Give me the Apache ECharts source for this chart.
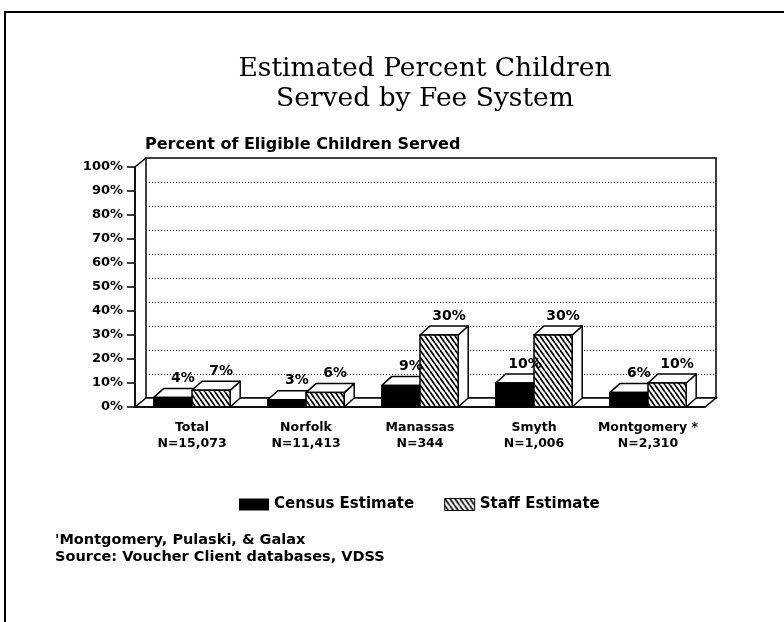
<!DOCTYPE html>
<html>
<head>
<meta charset="utf-8">
<script src="https://cdn.jsdelivr.net/npm/echarts@6/dist/echarts.min.js"></script>
<style>
  html, body { margin: 0; padding: 0; background: #fff; }
  #chart { width: 784px; height: 622px; }
</style>
</head>
<body>
<div id="chart"></div>
<script>
// data
const categories = ['Total', 'Norfolk', 'Manassas', 'Smyth', 'Montgomery *'];
const sampleSizes = ['N=15,073', 'N=11,413', 'N=344', 'N=1,006', 'N=2,310'];
const censusEstimate = [4, 3, 9, 10, 6];
const staffEstimate = [7, 6, 30, 30, 10];
const yMin = 0, yMax = 100, yStep = 10;

const LABEL_FONT = '"DejaVu Sans", sans-serif';
// 3d depth of the boxes and of the back wall, in pixels
const BAR_DX = 10, BAR_DY = 9;
const WALL_DX = 11, WALL_DY = 9;

function makeHatch () {
    const c = document.createElement('canvas');
    c.width = 5; c.height = 7;
    const g = c.getContext('2d');
    g.fillStyle = '#fff';
    g.fillRect(0, 0, 5, 7);
    g.strokeStyle = '#000';
    g.lineWidth = 1.7;
    for (let o = -5; o <= 5; o += 5) {
        g.beginPath();
        g.moveTo(o, 0);
        g.lineTo(o + 5, 7);
        g.stroke();
    }
    return c;
}
const hatch = { image: makeHatch(), repeat: 'repeat' };

function boxRenderer (side, fill) {
    return function (params, api) {
        const idx = api.value(0);
        const v = api.value(1);
        const base = api.coord([idx, 0]);
        const top = api.coord([idx, v]);
        const band = api.size([1, 0])[0];
        const w = band * 0.335;
        const x0 = side === 0 ? base[0] - w : base[0];
        const x1 = x0 + w;
        const y0 = base[1], yt = top[1];
        const line = { stroke: '#000', lineWidth: 1.5, lineJoin: 'round' };
        return {
            type: 'group',
            children: [
                {
                    type: 'polygon',
                    shape: { points: [[x1, yt], [x1 + BAR_DX, yt - BAR_DY], [x1 + BAR_DX, y0 - BAR_DY], [x1, y0]] },
                    style: Object.assign({ fill: '#fff' }, line)
                },
                {
                    type: 'polygon',
                    shape: { points: [[x0, yt], [x0 + BAR_DX, yt - BAR_DY], [x1 + BAR_DX, yt - BAR_DY], [x1, yt]] },
                    style: Object.assign({ fill: '#fff' }, line)
                },
                {
                    type: 'rect',
                    shape: { x: x0, y: yt, width: w, height: y0 - yt },
                    style: Object.assign({ fill: fill }, line)
                },
                {
                    type: 'text',
                    z2: 100,
                    x: (x0 + x1) / 2 + BAR_DX,
                    y: yt - BAR_DY - 3,
                    style: {
                        text: v + '%',
                        fill: '#000',
                        font: 'bold 14px ' + LABEL_FONT,
                        align: 'center',
                        verticalAlign: 'bottom'
                    }
                }
            ]
        };
    };
}

// side wall and floor edges of the 3d frame
function frameRenderer (params, api) {
    const band = api.size([1, 0])[0];
    const left = api.coord([0, yMin])[0] - band / 2;
    const right = api.coord([categories.length - 1, yMin])[0] + band / 2;
    const bottom = api.coord([0, yMin])[1];
    const topY = api.coord([0, yMax])[1];
    const st = { stroke: '#000', lineWidth: 1.5, fill: null };
    return {
        type: 'group',
        children: [
            { type: 'polygon', shape: { points: [[left, bottom], [left + WALL_DX, bottom - WALL_DY], [right + WALL_DX, bottom - WALL_DY], [right, bottom]] }, style: { fill: '#fff', stroke: '#000', lineWidth: 1.5 } },
            { type: 'line', shape: { x1: left, y1: topY, x2: left + WALL_DX, y2: topY - WALL_DY }, style: st },
            { type: 'line', shape: { x1: left, y1: topY, x2: left, y2: bottom }, style: st }
        ]
    };
}

const chart = echarts.init(document.getElementById('chart'));
const option = {
    animation: false,
    backgroundColor: '#fff',
    title: [
        {
            text: 'Estimated Percent Children\nServed by Fee System',
            left: 420,
            top: 49,
            textAlign: 'center',
            textStyle: { fontFamily: '"DejaVu Serif", serif', fontWeight: 'normal', fontSize: 26.5, lineHeight: 30, color: '#000' }
        },
        {
            text: 'Percent of Eligible Children Served',
            left: 140,
            top: 132,
            textStyle: { fontFamily: LABEL_FONT, fontWeight: 'bold', fontSize: 16, color: '#000' }
        },
        {
            text: "'Montgomery, Pulaski, & Galax\nSource: Voucher Client databases, VDSS",
            left: 50,
            top: 527,
            textStyle: { fontFamily: LABEL_FONT, fontWeight: 'bold', fontSize: 14.5, lineHeight: 17, color: '#000' }
        }
    ],
    legend: {
        left: 234,
        top: 492,
        icon: 'rect',
        itemWidth: 30,
        itemHeight: 12,
        itemGap: 30,
        selectedMode: false,
        textStyle: { fontFamily: LABEL_FONT, fontWeight: 'bold', fontSize: 15, color: '#000' },
        data: [
            { name: 'Census Estimate', itemStyle: { color: '#000' } },
            { name: 'Staff Estimate', itemStyle: { color: hatch, borderColor: '#000', borderWidth: 1 } }
        ]
    },
    graphic: [
        {
            type: 'polyline',
            silent: true,
            shape: { points: [[5, 622], [5, 12], [784, 12]] },
            style: { stroke: '#000', lineWidth: 2, fill: null }
        }
    ],
    grid: [
        { left: 135, right: 79, top: 167, bottom: 215 },
        { left: 146, right: 68, top: 158, bottom: 224, show: true, borderColor: '#000', borderWidth: 1.5, backgroundColor: 'transparent' }
    ],
    xAxis: [
        {
            type: 'category',
            gridIndex: 0,
            data: categories.map((c, i) => c + '\n' + sampleSizes[i]),
            axisLine: { lineStyle: { color: '#000', width: 1.5 } },
            axisTick: { alignWithLabel: true, length: 6, lineStyle: { color: '#000', width: 1.5 } },
            axisLabel: { interval: 0, margin: 13, color: '#000', fontFamily: LABEL_FONT, fontWeight: 'bold', fontSize: 12.5, lineHeight: 16 },
            z: 5
        },
        {
            type: 'category',
            gridIndex: 1,
            data: categories,
            show: false
        }
    ],
    yAxis: [
        {
            type: 'value',
            gridIndex: 0,
            min: yMin,
            max: yMax,
            interval: yStep,
            axisLine: { show: true, lineStyle: { color: '#000', width: 1.5 } },
            axisTick: { show: true, length: 8, lineStyle: { color: '#000', width: 1.5 } },
            axisLabel: { formatter: '{value}%', margin: 12, color: '#000', fontFamily: LABEL_FONT, fontWeight: 'bold', fontSize: 13 },
            splitLine: { show: false }
        },
        {
            type: 'value',
            gridIndex: 1,
            min: yMin,
            max: yMax,
            interval: yStep,
            axisLine: { show: false },
            axisTick: { show: false },
            axisLabel: { show: false },
            splitLine: { show: true, lineStyle: { color: '#333', width: 1, type: [1, 2] } }
        }
    ],
    series: [
        {
            name: 'frame',
            type: 'custom',
            xAxisIndex: 0,
            yAxisIndex: 0,
            silent: true,
            renderItem: frameRenderer,
            data: [[0, 0]],
            z: 1
        },
        {
            name: 'Census Estimate',
            type: 'custom',
            xAxisIndex: 0,
            yAxisIndex: 0,
            itemStyle: { color: '#000' },
            renderItem: boxRenderer(0, '#000'),
            data: censusEstimate.map((v, i) => [i, v]),
            z: 3
        },
        {
            name: 'Staff Estimate',
            type: 'custom',
            xAxisIndex: 0,
            yAxisIndex: 0,
            itemStyle: { color: hatch },
            renderItem: boxRenderer(1, hatch),
            data: staffEstimate.map((v, i) => [i, v]),
            z: 3
        }
    ]
};
chart.setOption(option);
</script>
</body>
</html>
